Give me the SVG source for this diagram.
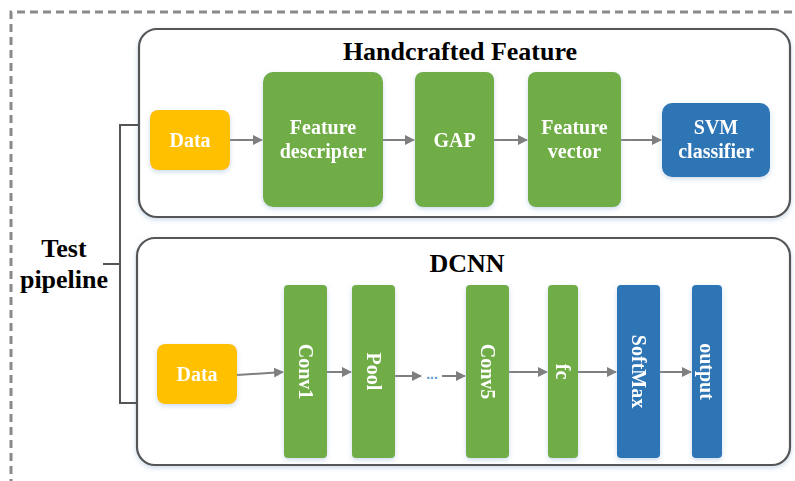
<svg xmlns="http://www.w3.org/2000/svg" width="795" height="481" viewBox="0 0 795 481">
<defs>
<style>
.frame{fill:#fff;stroke:#555;stroke-width:2.2}
.g{fill:#70ad47}
.y{fill:#ffc000}
.b{fill:#2e75b6}
.nt{font-family:"Liberation Serif",serif;font-weight:bold;font-size:20px;fill:#fff;text-anchor:middle}
.ttl{font-family:"Liberation Serif",serif;font-weight:bold;font-size:26px;fill:#000;text-anchor:middle}
.lbl{font-family:"Liberation Serif",serif;font-weight:bold;font-size:26px;fill:#000;text-anchor:middle}
.arr{stroke:#7f7f7f;stroke-width:2;fill:none;marker-end:url(#ah)}
.br{stroke:#555;stroke-width:2;fill:none}
</style>
<marker id="ah" viewBox="0 0 10 10" refX="9" refY="5" markerWidth="5" markerHeight="5" orient="auto" markerUnits="strokeWidth">
<path d="M0,0 L10,5 L0,10 z" fill="#7f7f7f"/>
</marker>
<filter id="sh" x="-20%" y="-20%" width="140%" height="140%">
<feDropShadow dx="0" dy="2" stdDeviation="2.5" flood-color="#9bb8d8" flood-opacity="0.5"/>
</filter>
</defs>
<rect width="795" height="481" fill="#fff"/>
<path d="M11,500 L11,12 L800,12" fill="none" stroke="#8a8a8a" stroke-width="3" stroke-dasharray="8,5"/>

<g id="handcrafted-frame">
<rect class="frame" x="139" y="29" width="651" height="188" rx="18" filter="url(#sh)"/>
<text class="ttl" x="460" y="60">Handcrafted Feature</text>
</g>
<g id="dcnn-frame">
<rect class="frame" x="137" y="238" width="653" height="227" rx="18" filter="url(#sh)"/>
<text class="ttl" x="467" y="272">DCNN</text>
</g>
<g id="test-pipeline">
<text class="lbl" x="64" y="257">Test</text>
<text class="lbl" x="64" y="288">pipeline</text>
</g>

<g id="connectors">
<path class="br" d="M139,125 H120 V403 H137"/>
<path class="br" d="M103,264 H120"/>
<line class="arr" x1="230" y1="140" x2="262" y2="140"/>
<line class="arr" x1="383" y1="140" x2="414" y2="140"/>
<line class="arr" x1="494" y1="140" x2="527" y2="140"/>
<line class="arr" x1="621" y1="140" x2="661" y2="140"/>
<line class="arr" x1="237" y1="375" x2="283" y2="372"/>
<line class="arr" x1="327" y1="372" x2="351" y2="372"/>
<line class="arr" x1="395" y1="376" x2="421" y2="376"/>
<line class="arr" x1="442" y1="376" x2="465" y2="376"/>
<line class="arr" x1="509" y1="372" x2="547" y2="372"/>
<line class="arr" x1="578" y1="372" x2="616" y2="372"/>
<line class="arr" x1="660" y1="372" x2="691" y2="372"/>
<text x="432" y="379" font-family="Liberation Sans,sans-serif" font-size="14" font-weight="bold" fill="#5b9bd5" text-anchor="middle">...</text>
</g>

<g id="data1" filter="url(#sh)"><rect class="y" x="150" y="110" width="80" height="60" rx="8"/><text class="nt" x="190" y="147">Data</text></g>
<g id="feature-descripter" filter="url(#sh)"><rect class="g" x="263" y="72" width="120" height="135" rx="10"/><text class="nt" x="323" y="134">Feature</text><text class="nt" x="323" y="158">descripter</text></g>
<g id="gap" filter="url(#sh)"><rect class="g" x="415" y="72" width="79" height="135" rx="8"/><text class="nt" x="454.5" y="147">GAP</text></g>
<g id="feature-vector" filter="url(#sh)"><rect class="g" x="528" y="72" width="93" height="135" rx="8"/><text class="nt" x="574.5" y="134">Feature</text><text class="nt" x="574.5" y="158">vector</text></g>
<g id="svm" filter="url(#sh)"><rect class="b" x="662" y="103" width="108" height="74" rx="10"/><text class="nt" x="716" y="134">SVM</text><text class="nt" x="716" y="158">classifier</text></g>

<g id="data2" filter="url(#sh)"><rect class="y" x="157" y="344" width="80" height="60" rx="8"/><text class="nt" x="197" y="381">Data</text></g>
<g id="conv1" filter="url(#sh)"><rect class="g" x="284" y="285" width="43" height="173" rx="4"/><text class="nt" transform="translate(305.5,371.5) rotate(90)" y="7">Conv1</text></g>
<g id="pool" filter="url(#sh)"><rect class="g" x="352" y="285" width="43" height="173" rx="4"/><text class="nt" transform="translate(373.5,371.5) rotate(90)" y="7">Pool</text></g>
<g id="conv5" filter="url(#sh)"><rect class="g" x="466" y="285" width="43" height="173" rx="4"/><text class="nt" transform="translate(487.5,371.5) rotate(90)" y="7">Conv5</text></g>
<g id="fc" filter="url(#sh)"><rect class="g" x="548" y="285" width="30" height="173" rx="4"/><text class="nt" transform="translate(563,371.5) rotate(90)" y="7">fc</text></g>
<g id="softmax" filter="url(#sh)"><rect class="b" x="617" y="285" width="43" height="173" rx="4"/><text class="nt" transform="translate(638.5,371.5) rotate(90)" y="7">SoftMax</text></g>
<g id="output" filter="url(#sh)"><rect class="b" x="692" y="285" width="30" height="173" rx="4"/><text class="nt" transform="translate(707,371.5) rotate(90)" y="7">output</text></g>
</svg>
